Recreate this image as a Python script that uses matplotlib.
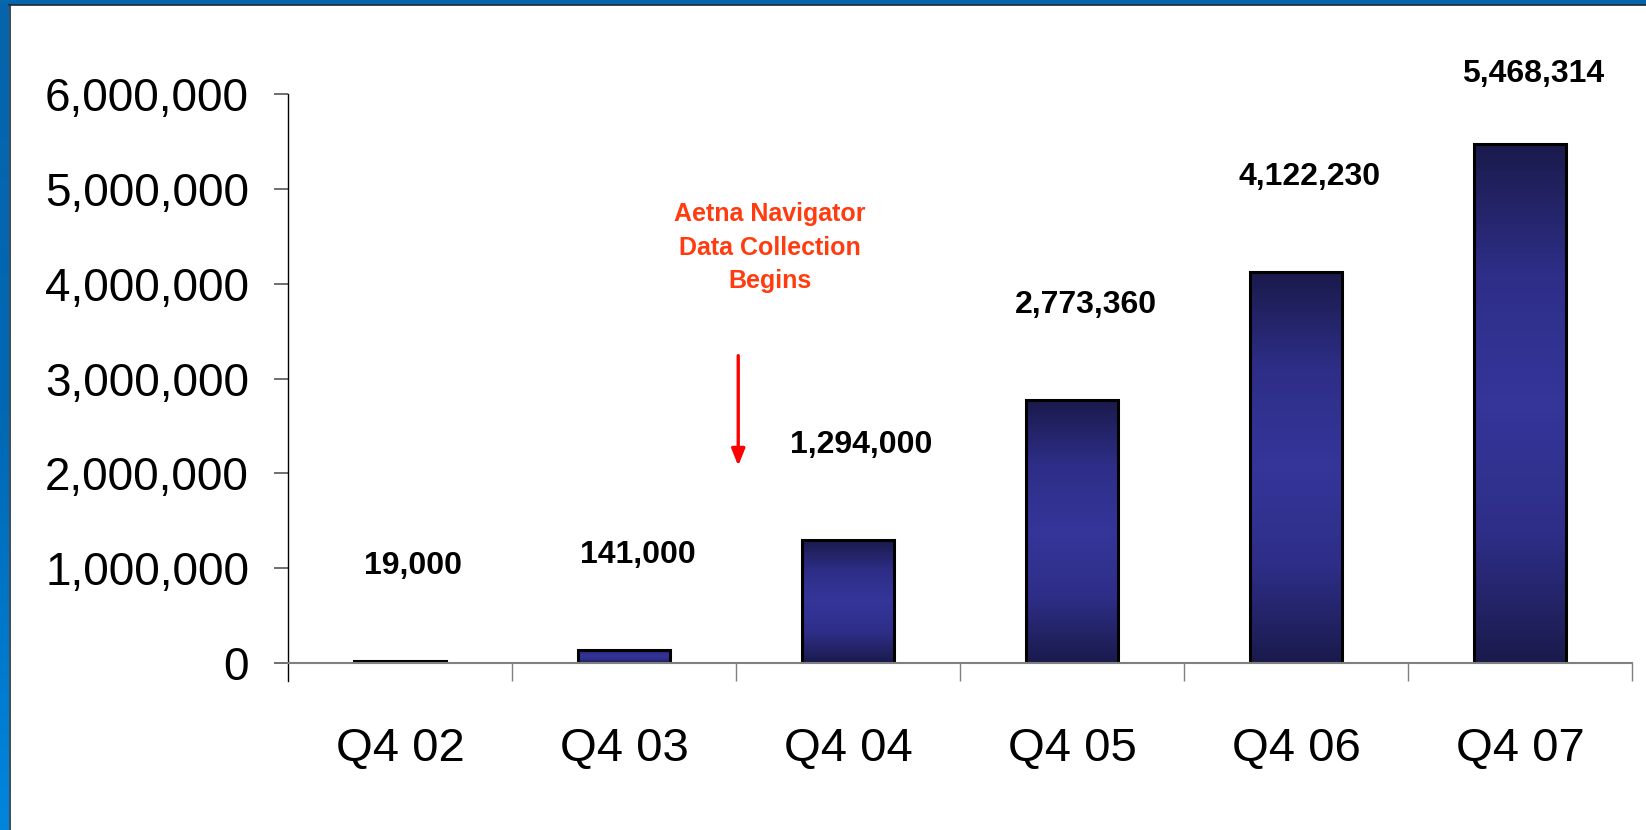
import numpy as np
import matplotlib
matplotlib.use("Agg")
import matplotlib.pyplot as plt
from matplotlib.colors import LinearSegmentedColormap
from matplotlib.ticker import FuncFormatter, FixedLocator

# data
quarters = ["Q4 02", "Q4 03", "Q4 04", "Q4 05", "Q4 06", "Q4 07"]
members = [19000, 141000, 1294000, 2773360, 4122230, 5468314]
value_labels = ["19,000", "141,000", "1,294,000", "2,773,360", "4,122,230", "5,468,314"]
note_text = "Aetna Navigator\nData Collection\nBegins"

NARROW = ["Liberation Sans Narrow", "Liberation Sans", "DejaVu Sans"]
plt.rcParams["font.family"] = NARROW

fig = plt.figure(figsize=(16.46, 8.30), dpi=100)
fig.patch.set_facecolor("white")

# blue frame on top and left
left_ax = fig.add_axes([0, 0, 9 / 1646, 1])
left_ax.imshow(np.linspace(0, 1, 256).reshape(-1, 1), aspect="auto",
               cmap=LinearSegmentedColormap.from_list("lb", ["#0565ad", "#0068b4", "#0086de"]),
               extent=[0, 1, 0, 1], origin="upper")
left_ax.axis("off")
fig.add_artist(plt.Rectangle((0, 1 - 5 / 830), 1, 5 / 830, transform=fig.transFigure,
                             color="#0565ad", lw=0))
fig.add_artist(plt.Line2D([9.5 / 1646, 9.5 / 1646], [0, 1 - 5 / 830], transform=fig.transFigure,
                          color="#1e2a3a", lw=1.2))
fig.add_artist(plt.Line2D([9 / 1646, 1], [1 - 5.5 / 830, 1 - 5.5 / 830], transform=fig.transFigure,
                          color="#1e2a3a", lw=1.2))

ax = fig.add_axes([288 / 1646, 1 - 663 / 830, (1632 - 288) / 1646, (663 - 94) / 830])
x = np.arange(len(quarters))
bar_w = 0.415
bars = ax.bar(x, members, width=bar_w, color="none", edgecolor="black", linewidth=2.2, zorder=3)

# vertical gradient inside each bar: dark at top and bottom, lighter in the middle
grad_cmap = LinearSegmentedColormap.from_list("bar", ["#1a1a4c", "#2e2e88", "#35359a",
                                                      "#2e2e88", "#1a1a4c"])
grad = np.linspace(0, 1, 256).reshape(-1, 1)
for b in bars:
    bx, bw, bh = b.get_x(), b.get_width(), b.get_height()
    im = ax.imshow(grad, aspect="auto", cmap=grad_cmap, extent=[bx, bx + bw, 0, bh],
                   origin="lower", zorder=2)
    im.set_clip_path(b)

ax.set_xlim(-0.5, len(quarters) - 0.5)
ax.set_ylim(0, 6000000)

# value labels sit about 1M above the bar, kept inside the top margin
for i, (v, lab) in enumerate(zip(members, value_labels)):
    ax.text(i + 0.06, min(v + 1.0e6, 6.21e6), lab, ha="center", va="center", fontsize=23,
            fontweight="bold", color="black", family=NARROW)

# annotation with red arrow
ax.text(1.5 + 0.15, 4.38e6, note_text, ha="center", va="center", fontsize=18,
        fontweight="bold", color="#ff3b0f", linespacing=1.5, family=NARROW)
ax.annotate("", xy=(1.5 + 0.01, 2.05e6), xytext=(1.5 + 0.01, 3.27e6),
            arrowprops=dict(arrowstyle="-|>,head_length=1.0,head_width=0.4",
                            color="#ff0000", lw=2.4))

# axes styling
for s in ["top", "right"]:
    ax.spines[s].set_visible(False)
ax.spines["left"].set_color("black")
ax.spines["left"].set_linewidth(1.0)
ax.spines["left"].set_bounds(-0.19e6, 6e6)
ax.spines["bottom"].set_color("#808080")
ax.spines["bottom"].set_linewidth(1.5)
ax.spines["bottom"].set_zorder(4)

ax.set_yticks(np.arange(0, 6000001, 1000000))
ax.yaxis.set_major_formatter(FuncFormatter(lambda v, p: f"{int(v):,}"))
ax.tick_params(axis="y", direction="out", length=10, width=1.2, color="#555555",
               labelsize=33, pad=18)

ax.set_xticks(x)
ax.set_xticklabels(quarters)
ax.xaxis.set_minor_locator(FixedLocator(np.arange(0.5, len(quarters), 1.0)))
ax.tick_params(axis="x", which="major", length=0, labelsize=34, pad=46)
ax.tick_params(axis="x", which="minor", direction="out", length=13, width=1.0, color="#808080")

for lab in ax.get_xticklabels() + ax.get_yticklabels():
    lab.set_family(NARROW)

fig.savefig("out.png", dpi=100)
